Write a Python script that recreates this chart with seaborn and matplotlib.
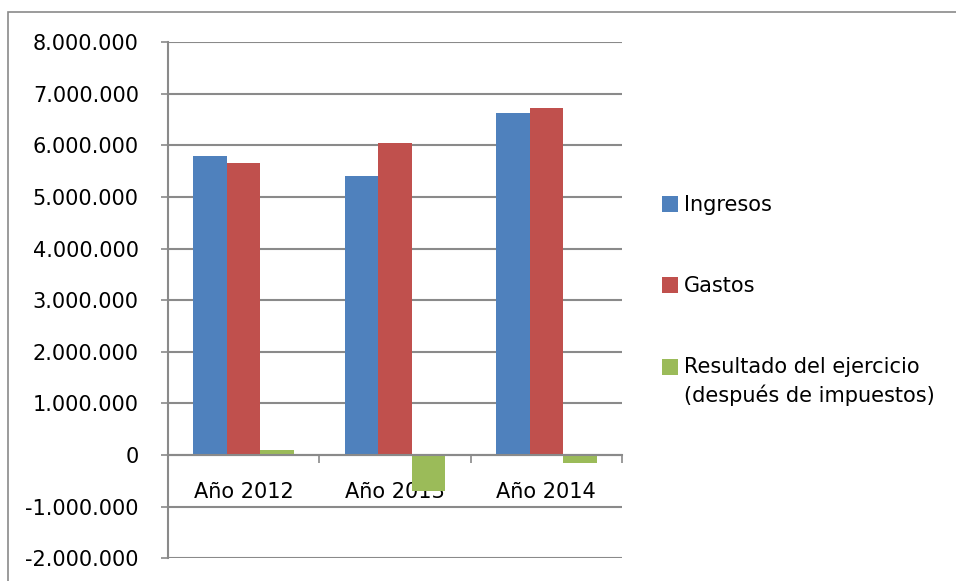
import matplotlib
matplotlib.use("Agg")
import matplotlib.pyplot as plt
from matplotlib.patches import Rectangle
from matplotlib.ticker import FuncFormatter, FixedLocator
import seaborn as sns
import pandas as pd

years = ["Año 2012", "Año 2013", "Año 2014"]
series_names = ["Ingresos", "Gastos", "Resultado del ejercicio\n(después de impuestos)"]
ingresos = [5800000, 5400000, 6620000]
gastos = [5650000, 6040000, 6720000]
resultado = [100000, -700000, -150000]
colors = ["#4F81BD", "#C0504D", "#9BBB59"]
y_ticks = list(range(-2000000, 8000001, 1000000))

rows = []
for name, vals in zip(series_names, [ingresos, gastos, resultado]):
    for y, v in zip(years, vals):
        rows.append({"year": y, "serie": name, "value": v})
df = pd.DataFrame(rows)

sns.set_style("white")
plt.rcParams["font.family"] = ["DejaVu Sans"]

fig = plt.figure(figsize=(9.56, 5.81), dpi=100)
W, H = 956, 581
left, right, top, bottom = 168, 622, 42, 558.3
ax = fig.add_axes([left / W, (H - bottom) / H, (right - left) / W, (bottom - top) / H])

sns.barplot(data=df, x="year", y="value", hue="serie", hue_order=series_names,
            palette=colors, width=0.667, gap=0, linewidth=0, saturation=1,
            errorbar=None, ax=ax, zorder=3)

FS = 15
grid_c = "#8A8A8A"
ax.set_ylim(-2000000, 8000000)
ax.set_xlim(-0.5, 2.5)
ax.yaxis.set_major_locator(FixedLocator(y_ticks))
ax.yaxis.set_major_formatter(FuncFormatter(lambda v, p: f"{int(v):,}".replace(",", ".")))
ax.grid(axis="y", color=grid_c, lw=1.5, zorder=0)
ax.set_axisbelow(True)
for s in ["top", "right"]:
    ax.spines[s].set_visible(False)
ax.spines["left"].set_color(grid_c)
ax.spines["left"].set_linewidth(1.5)
ax.spines["bottom"].set_position(("data", 0))
ax.spines["bottom"].set_color(grid_c)
ax.spines["bottom"].set_linewidth(1.5)
ax.spines["bottom"].set_zorder(4)

ax.tick_params(axis="y", which="major", left=True, length=5, width=1.2, color=grid_c,
               pad=16, labelsize=FS, labelcolor="black")
ax.tick_params(axis="x", which="major", bottom=True, length=0, pad=19.5,
               labelsize=FS, labelcolor="black")
ax.set_xticks([-0.5, 0.5, 1.5, 2.5], minor=True)
ax.tick_params(axis="x", which="minor", bottom=True, length=6, width=1.2, color=grid_c)
ax.set_xlabel("")
ax.set_ylabel("")

sns.move_legend(ax, loc="upper left", bbox_to_anchor=(662 / W, 1 - 195 / H),
                bbox_transform=fig.transFigure, frameon=False, title=None,
                fontsize=FS, labelspacing=2.93, handlelength=0.77, handleheight=0.77,
                handletextpad=0.3, borderaxespad=0, borderpad=0)
leg = ax.get_legend()
for t in leg.get_texts():
    t.set_linespacing(1.4)
    t.set_color("black")
# align the last handle with the first line of its two-line label
h3 = leg.legend_handles[2]
h3.set_y(h3.get_y() + 10.8)

fig.add_artist(Rectangle((8 / W, -0.1), 1.2, 1 - 12 / H + 0.1, transform=fig.transFigure,
                         fill=False, edgecolor=grid_c, lw=1.2))

fig.savefig("out.png", dpi=100)
